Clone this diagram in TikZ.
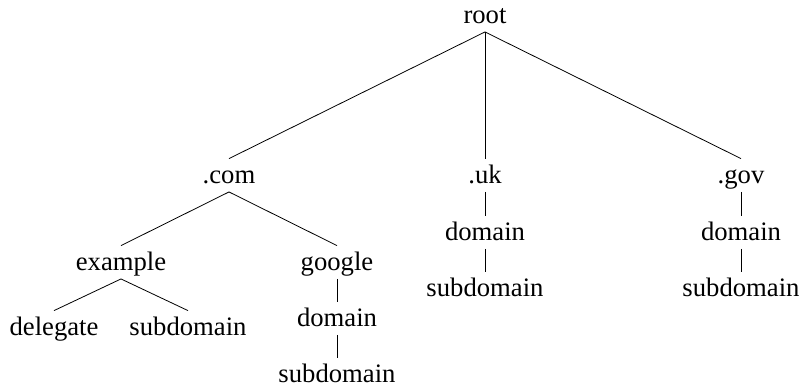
\documentclass[tikz,border=0pt]{standalone}
\usepackage{fontspec}
\setmainfont{Liberation Serif}
\begin{document}
\begin{tikzpicture}[x=0.75pt,y=-0.75pt,line width=0.6pt,
    label/.style={anchor=base,inner sep=0pt,text height=18pt,text depth=6.4pt,
      font=\fontsize{20}{24}\selectfont}]
      \useasboundingbox (0,0) rectangle (801,387);
      \draw
        (485,23) node[label] (root){root}
        (229,183) node[label] (com){.com}
        (485,183) node[label] (uk){.uk}
        (741,183) node[label] (gov){.gov}
        (121,270) node[label] (example){example}
        (337,270) node[label] (google){google}
        (54,335) node[label] (delegate){delegate}
        (188,335) node[label] (exsub){subdomain}
        (337,326) node[label] (gdomain){domain}
        (337,382) node[label] (gsub){subdomain}
        (485,240) node[label] (ukdomain){domain}
        (485,296) node[label] (uksub){subdomain}
        (741,240) node[label] (govdomain){domain}
        (741,296) node[label] (govsub){subdomain};
      \begin{scope}[-]
        \draw (root.south) -- (com.north);
        \draw (root.south) -- (uk.north);
        \draw (root.south) -- (gov.north);
        \draw (com.south) -- (example.north);
        \draw (com.south) -- (google.north);
        \draw (example.south) -- (delegate.north);
        \draw (example.south) -- (exsub.north);
        \draw (google.south) -- (gdomain.north);
        \draw (gdomain.south) -- (gsub.north);
        \draw (uk.south) -- (ukdomain.north);
        \draw (ukdomain.south) -- (uksub.north);
        \draw (gov.south) -- (govdomain.north);
        \draw (govdomain.south) -- (govsub.north);
      \end{scope}
    \end{tikzpicture}
\end{document}
